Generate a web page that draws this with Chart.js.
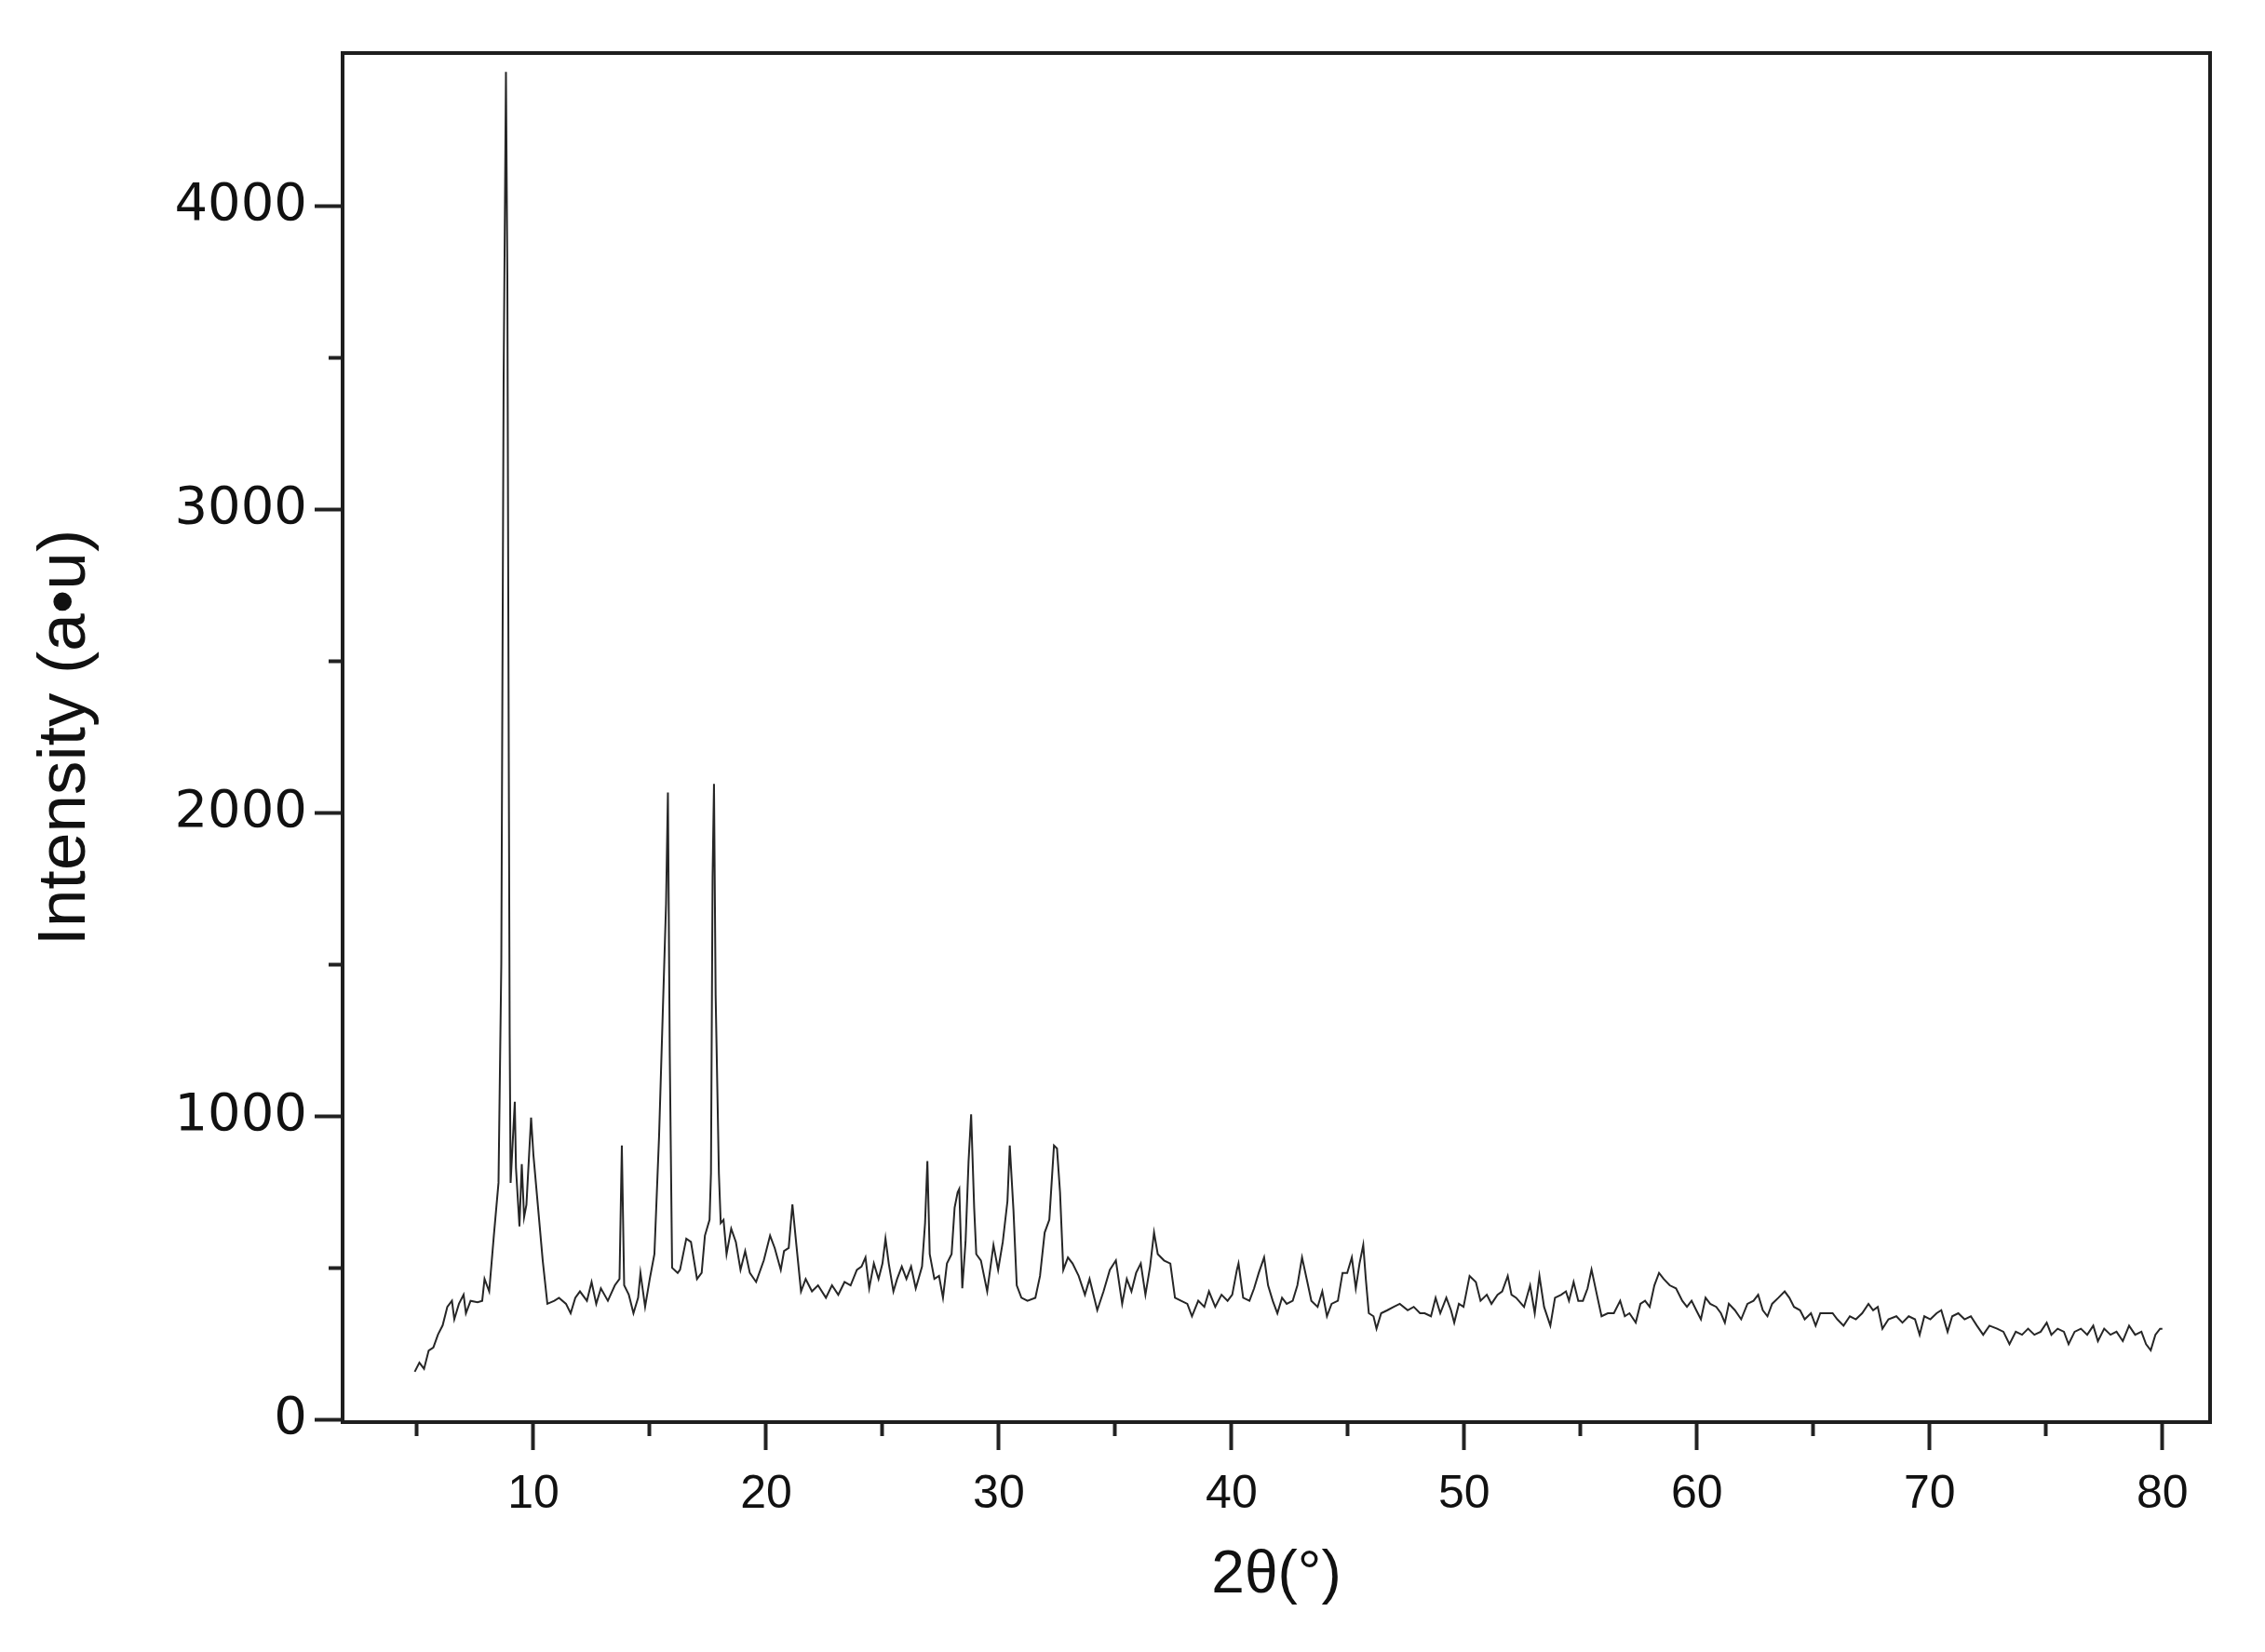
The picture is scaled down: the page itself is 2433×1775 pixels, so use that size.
<!DOCTYPE html>
<html lang="en">
<head>
<meta charset="UTF-8">
<title>XRD pattern</title>
<script src="https://cdn.jsdelivr.net/npm/chart.js"></script>
<style>
  body { margin: 0; background: #fff; }
</style>
</head>
<body>
<canvas id="myChart" width="2433" height="1775"></canvas>
<script>
// 2theta (deg) and intensity
const twoTheta = [
  4.9, 5.1, 5.3, 5.5, 5.7, 5.9, 6.1, 6.3, 6.5, 6.6, 6.8, 7.0, 7.1, 7.3, 7.6, 7.8, 7.9, 8.1, 8.3, 8.5,
  8.62, 8.72, 8.82, 8.88, 8.94, 8.98, 9.02, 9.2, 9.25, 9.4, 9.5, 9.6, 9.7, 9.9, 10.0, 10.2, 10.4, 10.6,
  10.9, 11.1, 11.4, 11.6, 11.8, 12.0, 12.3, 12.5, 12.7, 12.9, 13.2, 13.5, 13.7, 13.8, 13.9, 14.1, 14.3,
  14.5, 14.6, 14.8, 15.0, 15.2, 15.4, 15.5, 15.7, 15.78, 15.86, 15.96, 16.2, 16.3, 16.57, 16.77, 17.03,
  17.23, 17.37, 17.57, 17.63, 17.7, 17.76, 17.83, 17.97, 18.05, 18.17, 18.3, 18.5, 18.7, 18.9, 19.1,
  19.3, 19.57, 19.9, 20.17, 20.37, 20.63, 20.77, 20.97, 21.13, 21.3, 21.5, 21.7, 21.97, 22.23, 22.57,
  22.83, 23.1, 23.37, 23.63, 23.9, 24.1, 24.27, 24.43, 24.63, 24.83, 25.0, 25.13, 25.27, 25.47, 25.63,
  25.83, 26.03, 26.23, 26.43, 26.7, 26.83, 26.93, 27.03, 27.23, 27.43, 27.6, 27.77, 27.97, 28.1, 28.23,
  28.3, 28.43, 28.57, 28.7, 28.81, 28.94, 29.03, 29.23, 29.5, 29.77, 29.97, 30.17, 30.37, 30.47, 30.63,
  30.77, 30.97, 31.23, 31.57, 31.77, 31.97, 32.17, 32.37, 32.5, 32.63, 32.77, 32.97, 33.17, 33.43, 33.7,
  33.9, 34.23, 34.5, 34.77, 35.03, 35.3, 35.5, 35.7, 35.9, 36.1, 36.3, 36.5, 36.67, 36.83, 37.1, 37.37,
  37.57, 37.83, 38.1, 38.3, 38.57, 38.83, 39.03, 39.3, 39.57, 39.83, 40.03, 40.23, 40.3, 40.5, 40.77,
  40.97, 41.17, 41.4, 41.57, 41.77, 41.97, 42.17, 42.37, 42.63, 42.83, 43.03, 43.23, 43.43, 43.7, 43.9,
  44.1, 44.3, 44.57, 44.77, 44.97, 45.17, 45.34, 45.5, 45.66, 45.77, 45.9, 46.1, 46.23, 46.43, 46.7,
  46.97, 47.23, 47.57, 47.83, 48.1, 48.3, 48.57, 48.77, 48.97, 49.23, 49.43, 49.57, 49.77, 49.97, 50.23,
  50.5, 50.7, 50.97, 51.17, 51.43, 51.63, 51.87, 52.03, 52.23, 52.57, 52.83, 53.03, 53.23, 53.43, 53.7,
  53.9, 54.17, 54.37, 54.5, 54.7, 54.9, 55.1, 55.3, 55.47, 55.7, 55.9, 56.17, 56.43, 56.7, 56.9, 57.1,
  57.37, 57.57, 57.77, 57.97, 58.17, 58.37, 58.57, 58.83, 59.1, 59.37, 59.57, 59.77, 59.97, 60.17, 60.37,
  60.57, 60.83, 61.03, 61.2, 61.37, 61.63, 61.9, 62.17, 62.43, 62.63, 62.83, 63.03, 63.23, 63.5, 63.77,
  63.97, 64.17, 64.43, 64.63, 64.9, 65.1, 65.3, 65.57, 65.83, 66.03, 66.3, 66.57, 66.83, 67.1, 67.37,
  67.57, 67.77, 67.97, 68.23, 68.57, 68.83, 69.1, 69.37, 69.57, 69.77, 70.03, 70.3, 70.5, 70.77, 70.97,
  71.23, 71.5, 71.77, 72.03, 72.3, 72.57, 72.9, 73.17, 73.43, 73.7, 73.97, 74.23, 74.5, 74.77, 75.03,
  75.23, 75.5, 75.77, 75.97, 76.23, 76.5, 76.77, 77.03, 77.23, 77.5, 77.77, 78.03, 78.3, 78.57, 78.83,
  79.1, 79.3, 79.5, 79.7, 79.9, 80.0
];
const intensity = [
  157, 187, 167, 227, 237, 280, 310, 371, 391, 330, 381, 411, 350, 391, 386, 391, 463, 422, 606, 780,
  1500, 3430, 4443, 3770, 2200, 1272, 780, 1047, 830, 636, 842, 667, 708, 995, 872, 698, 524, 381,
  391, 401, 381, 350, 401, 422, 391, 453, 381, 432, 391, 442, 463, 903, 442, 411, 350,
  401, 483, 371, 463, 545, 934, 1190, 1700, 2067, 1200, 500, 483, 493, 596, 585, 463,
  483, 606, 658, 811, 1790, 2095, 1400, 811, 647, 658, 545, 629, 585, 493, 555,
  483, 453, 524, 606, 565, 493, 555, 565, 709, 575, 422, 463, 422, 442, 401,
  442, 411, 453, 442, 493, 504, 534, 432, 514, 463, 514, 596, 514, 422, 463,
  504, 463, 504, 432, 504, 647, 852, 545, 463, 473, 401, 514, 545, 698, 749,
  760, 432, 585, 852, 1006, 698, 545, 524, 422, 575, 493, 585, 719, 903, 688,
  442, 401, 391, 401, 473, 616, 658, 903, 893, 749, 493, 534, 514, 473, 411,
  463, 360, 422, 493, 524, 381, 463, 422, 483, 514, 411, 504, 616, 545, 524, 514,
  401, 391, 381, 340, 391, 371, 422, 371, 411, 391, 411, 493, 514, 401, 391,
  432, 483, 534, 442, 391, 350, 401, 381, 391, 442, 534, 463, 391, 371, 422,
  340, 381, 391, 483, 483, 534, 432, 514, 575, 463, 350, 340, 299, 350, 360,
  371, 381, 360, 371, 350, 350, 340, 401, 350, 401, 360, 319, 381, 371, 473,
  453, 391, 411, 381, 411, 422, 473, 411, 401, 371, 442, 350, 473, 371, 309,
  401, 411, 422, 391, 453, 391, 391, 432, 494, 411, 340, 350, 350, 391, 340, 350,
  319, 381, 391, 371, 442, 483, 463, 442, 432, 391, 371, 391, 360, 330, 401,
  381, 371, 350, 319, 381, 360, 330, 381, 391, 411, 360, 340, 381, 401, 422,
  401, 371, 360, 330, 350, 309, 350, 350, 350, 330, 309, 340, 330, 350, 381,
  360, 371, 299, 330, 340, 319, 340, 330, 279, 340, 330, 350, 360, 289, 340,
  350, 330, 340, 309, 279, 309, 299, 289, 248, 289, 279, 299, 279, 289, 319,
  279, 299, 289, 248, 289, 299, 279, 309, 258, 299, 279, 289, 258, 309, 279,
  289, 248, 228, 279, 299, 299
];

// axis ticks
const xMajor = [10, 20, 30, 40, 50, 60, 70, 80];
const xMinor = [5, 15, 25, 35, 45, 55, 65, 75];
const yMajor = [0, 1000, 2000, 3000, 4000];
const yMinor = [500, 1500, 2500, 3500];

const points = twoTheta.map(function (t, i) { return { x: t, y: intensity[i] }; });

const frame = {
    id: 'frame',
    afterDraw(chart) {
        const { ctx, chartArea } = chart;
        ctx.save();
        ctx.strokeStyle = '#1e1e1e';
        ctx.lineWidth = 4;
        ctx.strokeRect(chartArea.left, chartArea.top, chartArea.right - chartArea.left, chartArea.bottom - chartArea.top);
        ctx.restore();
    }
};

const data = {
    datasets: [{
        data: points,
        borderColor: '#262626',
        borderWidth: 2,
        pointRadius: 0,
        tension: 0,
        fill: false
    }]
};

const config = {
    type: 'line',
    data: data,
    plugins: [frame],
    options: {
        responsive: false,
        animation: false,
        layout: { padding: { top: 57, right: 59, left: 0, bottom: 0 } },
        plugins: { legend: { display: false }, tooltip: { enabled: false } },
        scales: {
            x: {
                type: 'linear',
                min: 1.8,
                max: 82.05,
                afterFit: function (s) { s.height = 247; },
                afterBuildTicks: function (s) {
                    s.ticks = xMinor.concat(xMajor).sort(function (a, b) { return a - b; }).map(function (v) { return { value: v }; });
                },
                border: { display: false },
                grid: {
                    drawOnChartArea: false,
                    drawTicks: true,
                    tickLength: 30,
                    tickWidth: 4,
                    tickColor: '#222',
                    tickBorderDash: function (c) { return c.tick && xMinor.includes(c.tick.value) ? [15, 200] : []; }
                },
                ticks: {
                    padding: 18,
                    color: '#111',
                    font: { family: 'Liberation Sans, Arial, sans-serif', size: 50 },
                    maxRotation: 0,
                    autoSkip: false,
                    callback: function (v) { return xMajor.includes(v) ? String(v) : ''; }
                },
                title: {
                    display: true,
                    text: '2θ(°)',
                    color: '#111',
                    font: { family: 'Liberation Sans, Arial, sans-serif', size: 64, lineHeight: 1 },
                    padding: { top: 0, bottom: 50 }
                }
            },
            y: {
                min: -9,
                max: 4505,
                afterFit: function (s) { s.width = 368; },
                afterBuildTicks: function (s) {
                    s.ticks = yMajor.concat(yMinor).sort(function (a, b) { return a - b; }).map(function (v) { return { value: v }; });
                },
                border: { display: false },
                grid: {
                    drawOnChartArea: false,
                    drawTicks: true,
                    tickLength: 30,
                    tickWidth: 4,
                    tickColor: '#222',
                    tickBorderDash: function (c) { return c.tick && yMinor.includes(c.tick.value) ? [0, 15, 15, 200] : []; }
                },
                ticks: {
                    padding: 8,
                    color: '#111',
                    font: { family: 'DejaVu Sans, sans-serif', size: 56 },
                    autoSkip: false,
                    callback: function (v) { return yMajor.includes(v) ? String(v) : ''; }
                },
                title: {
                    display: true,
                    text: 'Intensity (a•u)',
                    color: '#111',
                    font: { family: 'Liberation Sans, Arial, sans-serif', size: 73, lineHeight: 1 },
                    padding: { top: 34, bottom: 0 }
                }
            }
        }
    }
};

const myChart = new Chart(document.getElementById('myChart'), config);
</script>
</body>
</html>
